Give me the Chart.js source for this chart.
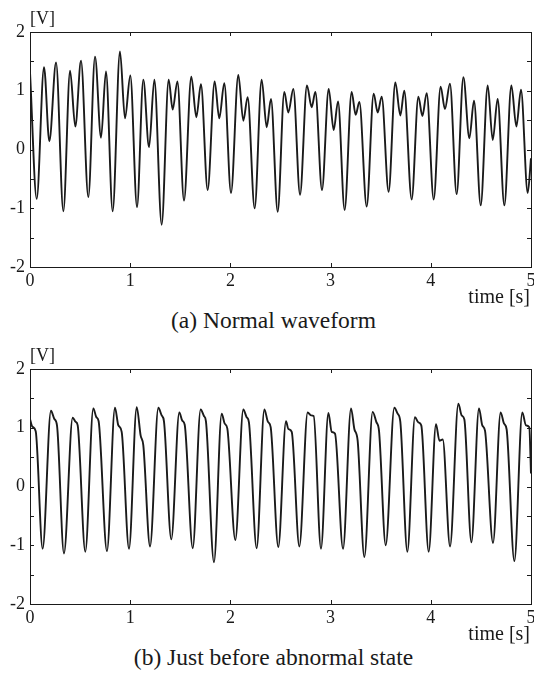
<!DOCTYPE html>
<html lang="en">
<head>
<meta charset="UTF-8">
<title>Waveforms</title>
<script src="https://cdn.jsdelivr.net/npm/chart.js"></script>
<style>
  body { margin: 0; width: 534px; height: 673px; overflow: hidden; background: #fff; position: relative;
         font-family: "Liberation Serif", "Times New Roman", serif; color: #1a1a1a; }
  .wrap { position: absolute; left: 0; width: 540px; height: 300px; }
  .lbl { position: absolute; white-space: nowrap; line-height: 1; }
  .cap { position: absolute; left: 0; width: 547px; text-align: center; font-size: 23.5px; line-height: 1; }
</style>
</head>
<body>
<div class="wrap" style="top:0"><canvas id="chartA" width="540" height="300"></canvas></div>
<div class="wrap" style="top:337px"><canvas id="chartB" width="540" height="300"></canvas></div>

<div class="lbl" style="left:30px;top:9px;font-size:18px">[V]</div>
<div class="lbl" style="right:4px;top:286px;font-size:20px">time [s]</div>
<div class="cap" style="top:309px">(a) Normal waveform</div>

<div class="lbl" style="left:30px;top:346px;font-size:18px">[V]</div>
<div class="lbl" style="right:4px;top:623px;font-size:20px">time [s]</div>
<div class="cap" style="top:646px">(b) Just before abnormal state</div>

<script>
// (a) normal waveform: peaks / troughs
const normalTime = [0, 0.067, 0.14, 0.193, 0.26, 0.333, 0.40, 0.452, 0.509, 0.582, 0.649, 0.709, 0.758, 0.825,
  0.898, 0.948, 1.001, 1.068, 1.131, 1.188, 1.241, 1.314, 1.384, 1.424, 1.471, 1.537, 1.61, 1.66, 1.706, 1.773,
  1.843, 1.889, 1.939, 2.006, 2.079, 2.129, 2.172, 2.242, 2.312, 2.362, 2.405, 2.472, 2.538, 2.578, 2.628, 2.695,
  2.764, 2.811, 2.848, 2.914, 2.981, 3.031, 3.074, 3.14, 3.21, 3.25, 3.287, 3.36, 3.43, 3.47, 3.51, 3.579,
  3.646, 3.696, 3.735, 3.809, 3.876, 3.916, 3.959, 4.029, 4.098, 4.141, 4.191, 4.258, 4.325, 4.385, 4.431, 4.498,
  4.568, 4.618, 4.667, 4.734, 4.804, 4.854, 4.9, 4.967, 5.0];
const normalVolt = [1.32, -0.84, 1.40, 0.14, 1.48, -1.05, 1.34, 0.39, 1.51, -0.81, 1.58, 0.20, 1.33, -1.05,
  1.67, 0.53, 1.26, -0.98, 1.19, 0.04, 1.19, -1.28, 1.19, 0.68, 1.16, -0.87, 1.24, 0.55, 1.11, -0.69,
  1.16, 0.53, 1.13, -0.74, 1.27, 0.49, 0.89, -1.0, 1.19, 0.38, 0.86, -1.06, 0.98, 0.63, 1.03, -0.77,
  1.09, 0.72, 0.98, -0.69, 1.03, 0.33, 0.82, -1.03, 0.98, 0.59, 0.81, -0.97, 0.95, 0.63, 0.90, -0.72,
  1.14, 0.58, 1.0, -0.85, 0.90, 0.57, 0.96, -0.85, 1.07, 0.69, 1.12, -0.76, 1.23, 0.19, 0.83, -0.95,
  1.09, 0.16, 0.86, -0.95, 1.09, 0.39, 1.02, -0.74, -0.15];

// (b) just before abnormal state: peak, shoulder, trough per cycle
const abnormalTime = [0, 0.023, 0.057, 0.126, 0.209, 0.243, 0.27, 0.339, 0.426, 0.456, 0.476, 0.552,
  0.632, 0.662, 0.685, 0.768, 0.848, 0.882, 0.915, 0.988, 1.065, 1.104, 1.131, 1.198, 1.281, 1.314, 1.337, 1.41,
  1.49, 1.52, 1.544, 1.624, 1.703, 1.736, 1.756, 1.836, 1.913, 1.943, 1.969, 2.049, 2.129, 2.162, 2.185, 2.262,
  2.339, 2.375, 2.402, 2.478, 2.555, 2.578, 2.612, 2.688, 2.771, 2.804, 2.831, 2.904, 2.978, 3.011, 3.044, 3.124,
  3.204, 3.237, 3.27, 3.337, 3.42, 3.456, 3.483, 3.55, 3.636, 3.669, 3.696, 3.766, 3.842, 3.876, 3.905, 3.979,
  4.052, 4.086, 4.119, 4.192, 4.275, 4.308, 4.335, 4.405, 4.481, 4.514, 4.541, 4.621, 4.697, 4.731, 4.757, 4.834,
  4.913, 4.95, 4.983, 5.0];
const abnormalVolt = [1.15, 1.02, 0.94, -1.06, 1.29, 1.15, 1.03, -1.14, 1.17, 1.10, 1.04, -1.11,
  1.33, 1.18, 1.11, -1.10, 1.34, 1.04, 0.93, -1.06, 1.35, 0.87, 0.70, -1.02, 1.34, 1.21, 1.11, -0.90,
  1.26, 1.12, 1.05, -1.05, 1.31, 1.20, 1.11, -1.29, 1.24, 1.07, 0.99, -0.91, 1.31, 1.18, 1.09, -1.05,
  1.31, 1.10, 1.01, -1.03, 1.11, 0.98, 0.93, -1.02, 1.26, 1.21, 1.20, -1.06, 1.25, 0.93, 0.90, -1.06,
  1.33, 0.98, 0.78, -1.20, 1.27, 1.10, 0.95, -1.00, 1.34, 1.24, 1.10, -1.11, 1.18, 1.09, 1.04, -1.11,
  1.06, 0.78, 0.80, -1.02, 1.41, 1.21, 1.14, -0.95, 1.33, 1.04, 0.95, -0.96, 1.26, 1.07, 0.97, -1.27,
  1.26, 1.04, 1.01, 0.22];

// axis tick positions (inward tick marks, no grid)
const xTickMarks = [1, 2, 3, 4];
const yTickMarks = [-1.5, -1, -0.5, 0, 0.5, 1, 1.5];

const ink = '#1a1a1a';
const tickFont = { family: 'Liberation Serif', size: 18 };

const framePlugin = {
  id: 'frame',
  afterDraw(chart) {
    const { ctx, chartArea: a, scales: { x, y } } = chart;
    ctx.save();
    ctx.strokeStyle = ink;
    ctx.lineWidth = 1;
    ctx.strokeRect(a.left + 0.5, a.top + 0.5, a.right - a.left, a.bottom - a.top);
    ctx.beginPath();
    xTickMarks.forEach(v => {
      const px = Math.round(x.getPixelForValue(v)) + 0.5;
      ctx.moveTo(px, a.bottom); ctx.lineTo(px, a.bottom - 4);
      ctx.moveTo(px, a.top); ctx.lineTo(px, a.top + 4);
    });
    yTickMarks.forEach(v => {
      const py = Math.round(y.getPixelForValue(v)) + 0.5;
      ctx.moveTo(a.left, py); ctx.lineTo(a.left + 4, py);
      ctx.moveTo(a.right, py); ctx.lineTo(a.right - 4, py);
    });
    ctx.stroke();
    ctx.restore();
  }
};

function makeChart(id, times, volts) {
  const points = times.map((t, i) => ({ x: t, y: volts[i] }));
  return new Chart(document.getElementById(id), {
    type: 'line',
    data: {
      datasets: [{
        data: points,
        borderColor: ink,
        borderWidth: 1.9,
        pointRadius: 0,
        fill: false,
        cubicInterpolationMode: 'monotone'
      }]
    },
    options: {
      responsive: false,
      animation: false,
      devicePixelRatio: 1,
      layout: { padding: { top: 32, right: 9, left: 0, bottom: 0 } },
      plugins: { legend: { display: false }, tooltip: { enabled: false } },
      scales: {
        x: {
          type: 'linear', min: 0, max: 5,
          grid: { display: false, drawTicks: false },
          border: { display: false },
          ticks: { stepSize: 1, color: ink, font: tickFont, padding: 3, maxRotation: 0 },
          afterFit(s) { s.height = 33; }
        },
        y: {
          min: -2, max: 2,
          grid: { display: false, drawTicks: false },
          border: { display: false },
          ticks: { stepSize: 1, color: ink, font: tickFont, padding: 5 },
          afterFit(s) { s.width = 30; }
        }
      }
    },
    plugins: [framePlugin]
  });
}

makeChart('chartA', normalTime, normalVolt);
makeChart('chartB', abnormalTime, abnormalVolt);
</script>
</body>
</html>
